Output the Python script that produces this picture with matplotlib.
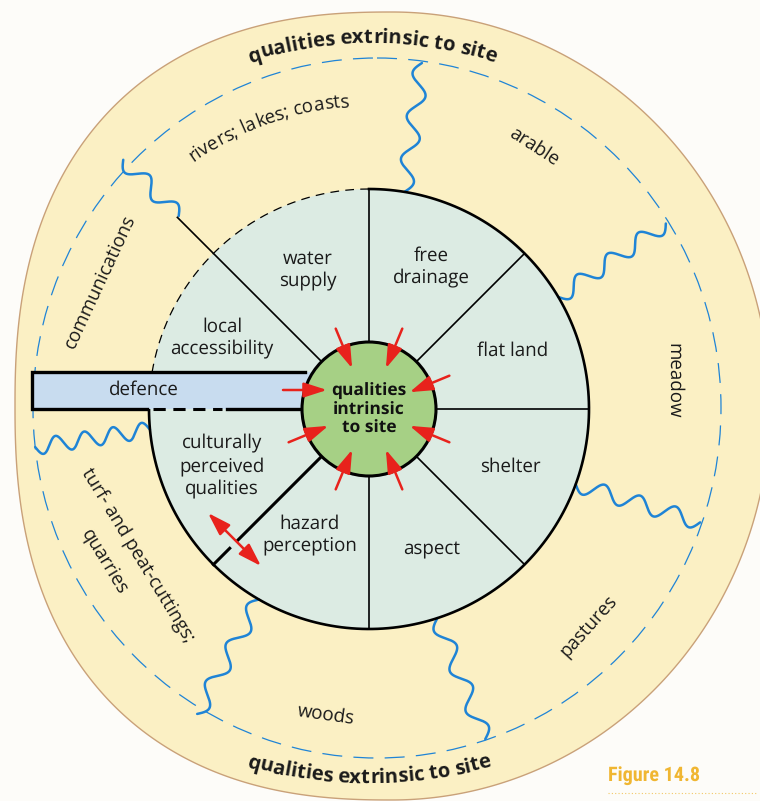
import numpy as np
import matplotlib.pyplot as plt
from matplotlib import font_manager
from matplotlib.ft2font import FT2Font, LoadFlags
from matplotlib.patches import Polygon, Circle, Ellipse, Rectangle, FancyArrowPatch
from matplotlib.font_manager import FontProperties

plt.rcParams['text.hinting'] = 'no_hinting'

# --- contenu du schéma ---
title_txt = "qualities extrinsic to site"
centre_txt = "qualities\nintrinsic\nto site"

ring_labels = ["water\nsupply", "free\ndrainage", "flat land", "shelter", "aspect",
               "hazard\nperception", "culturally\nperceived\nqualities", "local\naccessibility"]
outer_labels = ["arable", "meadow", "pastures", "woods", "communications"]

# rayons séparant les secteurs (degrés)
spoke_angles = [90, 45, 0, -45, -90]
# ondulations bleues : angle de départ, angle d'arrivée, demi-périodes
wave_a0 = [80.7, 134.6, 30.6, -20.0, -71.9, -120.0, 185.4]
wave_a1 = [81.3, 134.6, 32.0, -18.9, -70.6, -119.4, 186.5]
wave_n = [6, 4, 7, 7, 6, 6, 8]
# flèches rouges vers le centre
arrow_angles = [22.5, 67.5, 112.5, 202.5, 247.5, 292.5, 337.5]

W, H = 760, 801
cx, cy = 369, 409
r_in, r_mid = 67, 220

fig = plt.figure(figsize=(7.6, 8.01), dpi=100)
fig.patch.set_facecolor('#fdfcf9')
ax = fig.add_axes([0, 0, 1, 1])
ax.set_xlim(0, W)
ax.set_ylim(H, 0)
ax.axis('off')

FONT = 'Open Sans'
yellow = '#fbf0c4'
ring_col = '#dcebe3'
green = '#a6d085'
blue = '#1f84d6'
red = '#e8221c'
ink = '#1a1a1a'


def pt(r, a):
    return cx + r * np.cos(np.radians(a)), cy - r * np.sin(np.radians(a))


def arc(r, a0, a1, n=200):
    a = np.radians(np.linspace(a0, a1, n))
    return cx + r * np.cos(a), cy - r * np.sin(a)


def wave(a0, a1, r0, r1, nh, amp=8):
    x0, y0 = pt(r0, a0)
    x1, y1 = pt(r1, a1)
    t = np.linspace(0, 1, 300)
    dx, dy = x1 - x0, y1 - y0
    L = np.hypot(dx, dy)
    px, py = -dy / L, dx / L
    off = amp * np.sin(np.pi * nh * t)
    ax.plot(x0 + t * dx + off * px, y0 + t * dy + off * py, color=blue, lw=1.8,
            solid_capstyle='round', zorder=3)


# fond jaune (forme irrégulière)
t = np.linspace(0, 2 * np.pi, 600)
c, s = np.cos(t), np.sin(t)
n = np.where(c < 0, 2.4, 2.0)
a = np.where(c < 0, 377, 378)
ox = 392 + a * np.sign(c) * np.abs(c) ** (2 / n)
oy = 406 - 394 * np.sign(s) * np.abs(s) ** (2 / n)
ax.add_patch(Polygon(np.c_[ox, oy], closed=True, fc=yellow, ec='#c9a179', lw=1.0, zorder=1))

# ellipse pointillée bleue
ax.add_patch(Ellipse((377, 408), 688, 700, fill=False, ec=blue, lw=0.9,
                     ls=(0, (16, 9)), zorder=2))

# anneau intermédiaire
ax.add_patch(Circle((cx, cy), r_mid, fc=ring_col, ec='none', zorder=2))

# ondulations
for a0, a1, nh in zip(wave_a0, wave_a1, wave_n):
    r0 = 271 if a0 == 134.6 else r_mid
    r1 = 336 if a0 > 180 else 350
    wave(a0, a1, r0, r1, nh)

# rayons
for ang in spoke_angles:
    x0, y0 = pt(r_in, ang)
    x1, y1 = pt(r_mid, ang)
    ax.plot([x0, x1], [y0, y1], color='k', lw=1.2, zorder=4)
x0, y0 = pt(r_in, 135)
x1, y1 = pt(271, 135)
ax.plot([x0, x1], [y0, y1], color='k', lw=1.2, zorder=4)
# rayon coupé (hazard perception)
for ra, rb in [(r_in, 185), (197, r_mid)]:
    x0, y0 = pt(ra, 225)
    x1, y1 = pt(rb, 225)
    ax.plot([x0, x1], [y0, y1], color='k', lw=2.2, zorder=4)

# contour du cercle intermédiaire
xs, ys = arc(r_mid, -180, 90)
ax.plot(xs, ys, color='k', lw=1.9, zorder=4)
xs, ys = arc(r_mid, 90, 170.3)
ax.plot(xs, ys, color='k', lw=0.9, ls=(0, (7, 5)), zorder=4)

# barre "defence"
ax.add_patch(Rectangle((32, 372), 280, 37, fc='#c8dcef', ec='none', zorder=5))
ax.plot([305, 32, 32, 147], [372, 372, 409, 409], color='k', lw=2.4, zorder=6,
        solid_joinstyle='miter')
ax.plot([153, 222], [409, 409], color='k', lw=2.2, ls=(0, (4, 2.5)), zorder=6)
ax.plot([227, 305], [409, 409], color='k', lw=2.4, zorder=6)

# cercle central
ax.add_patch(Circle((cx, cy), r_in, fc=green, ec='k', lw=2.2, zorder=7))

# flèches rouges
head = '-|>,head_length=1.4,head_width=0.45'
for ang in arrow_angles:
    ax.add_patch(FancyArrowPatch(pt(87, ang), pt(44, ang), arrowstyle=head,
                                 mutation_scale=10, color=red, lw=1.8,
                                 shrinkA=0, shrinkB=0, zorder=8))
ax.add_patch(FancyArrowPatch((283, 390), (327, 390), arrowstyle=head,
                             mutation_scale=10, color=red, lw=1.8,
                             shrinkA=0, shrinkB=0, zorder=8))
ax.add_patch(FancyArrowPatch((208, 513), (261, 566),
                             arrowstyle='<|-|>,head_length=1.4,head_width=0.45',
                             mutation_scale=10, color=red, lw=1.8,
                             shrinkA=0, shrinkB=0, zorder=8))


# textes courbes : métriques de chaque glyphe lues dans la police
def glyph_metrics(txt, fp):
    font = FT2Font(font_manager.findfont(fp))
    font.set_size(fp.get_size_in_points(), 100)
    adv, mid = [], []
    for ch in txt:
        g = font.load_char(ord(ch), flags=LoadFlags.NO_HINTING)
        adv.append(g.linearHoriAdvance / 65536)
        mid.append(g.horiBearingX / 64 + g.width / 128)
    return np.array(adv), np.array(mid)


def arc_text(txt, ccx, ccy, R, phi0, fs, top=True, weight='normal'):
    fp = FontProperties(family=FONT, weight=weight, size=fs)
    adv, mid = glyph_metrics(txt, fp)
    total = adv.sum()
    pos = np.cumsum(adv) - adv + mid - total / 2
    for ch, m in zip(txt, pos):
        if ch == ' ':
            continue
        phi = np.radians(phi0) + m / R
        if top:
            x, y, rot = ccx + R * np.sin(phi), ccy - R * np.cos(phi), -np.degrees(phi)
        else:
            x, y, rot = ccx + R * np.sin(phi), ccy + R * np.cos(phi), np.degrees(phi)
        ax.text(x, y, ch, fontproperties=fp, rotation=rot, rotation_mode='anchor',
                ha='center', va='baseline', color=ink, zorder=9)


arc_text(title_txt, 372, 447, 404, 0, 14.5, top=True, weight='bold')
arc_text(title_txt, 369, 333, 450, 0, 14.5, top=False, weight='bold')
arc_text("rivers; lakes; coasts", cx, cy, 303, -19.7, 13.5, top=True)

ring_xy = [(308, 270), (431, 267), (513, 351), (510, 467), (432, 550),
           (310, 535), (222, 466), (222, 338)]
for lab, (x, y) in zip(ring_labels, ring_xy):
    ax.text(x, y, lab, family=FONT, fontsize=13.5, ha='center', va='center',
            linespacing=1.25, color=ink, zorder=9)
ax.text(144, 390, "defence", family=FONT, fontsize=13.5, ha='center', va='center',
        color=ink, zorder=9)
ax.text(cx, 410, centre_txt, family=FONT, fontsize=12.5, fontweight='bold',
        ha='center', va='center', linespacing=1.12, color='#111111', zorder=9)

outer_xy = [(534, 147), (674, 381), (589, 626), (326, 715), (101, 282)]
outer_rot = [-33, -90, 48, -8, 65]
for lab, (x, y), rot in zip(outer_labels, outer_xy, outer_rot):
    ax.text(x, y, lab, family=FONT, fontsize=13.5, ha='center', va='center',
            rotation=rot, rotation_mode='anchor', color=ink, zorder=9)
ax.text(137, 556, "turf- and peat-cuttings;", family=FONT, fontsize=13.5, ha='center',
        va='center', rotation=-58.6, rotation_mode='anchor', color=ink, zorder=9)
ax.text(104, 562, "quarries", family=FONT, fontsize=13.5, ha='center',
        va='center', rotation=-58.6, rotation_mode='anchor', color=ink, zorder=9)

# légende de la figure
ax.text(608, 781, "Figure 14.8", family=['Roboto Condensed', 'Roboto'],
        fontsize=14.5, fontweight='bold', color='#f0b632', ha='left', va='baseline')
ax.plot([608, 756], [793, 793], color='#f3c866', lw=0.8, ls=(0, (1, 2)))

fig.savefig('out.png', dpi=100, facecolor=fig.get_facecolor())
